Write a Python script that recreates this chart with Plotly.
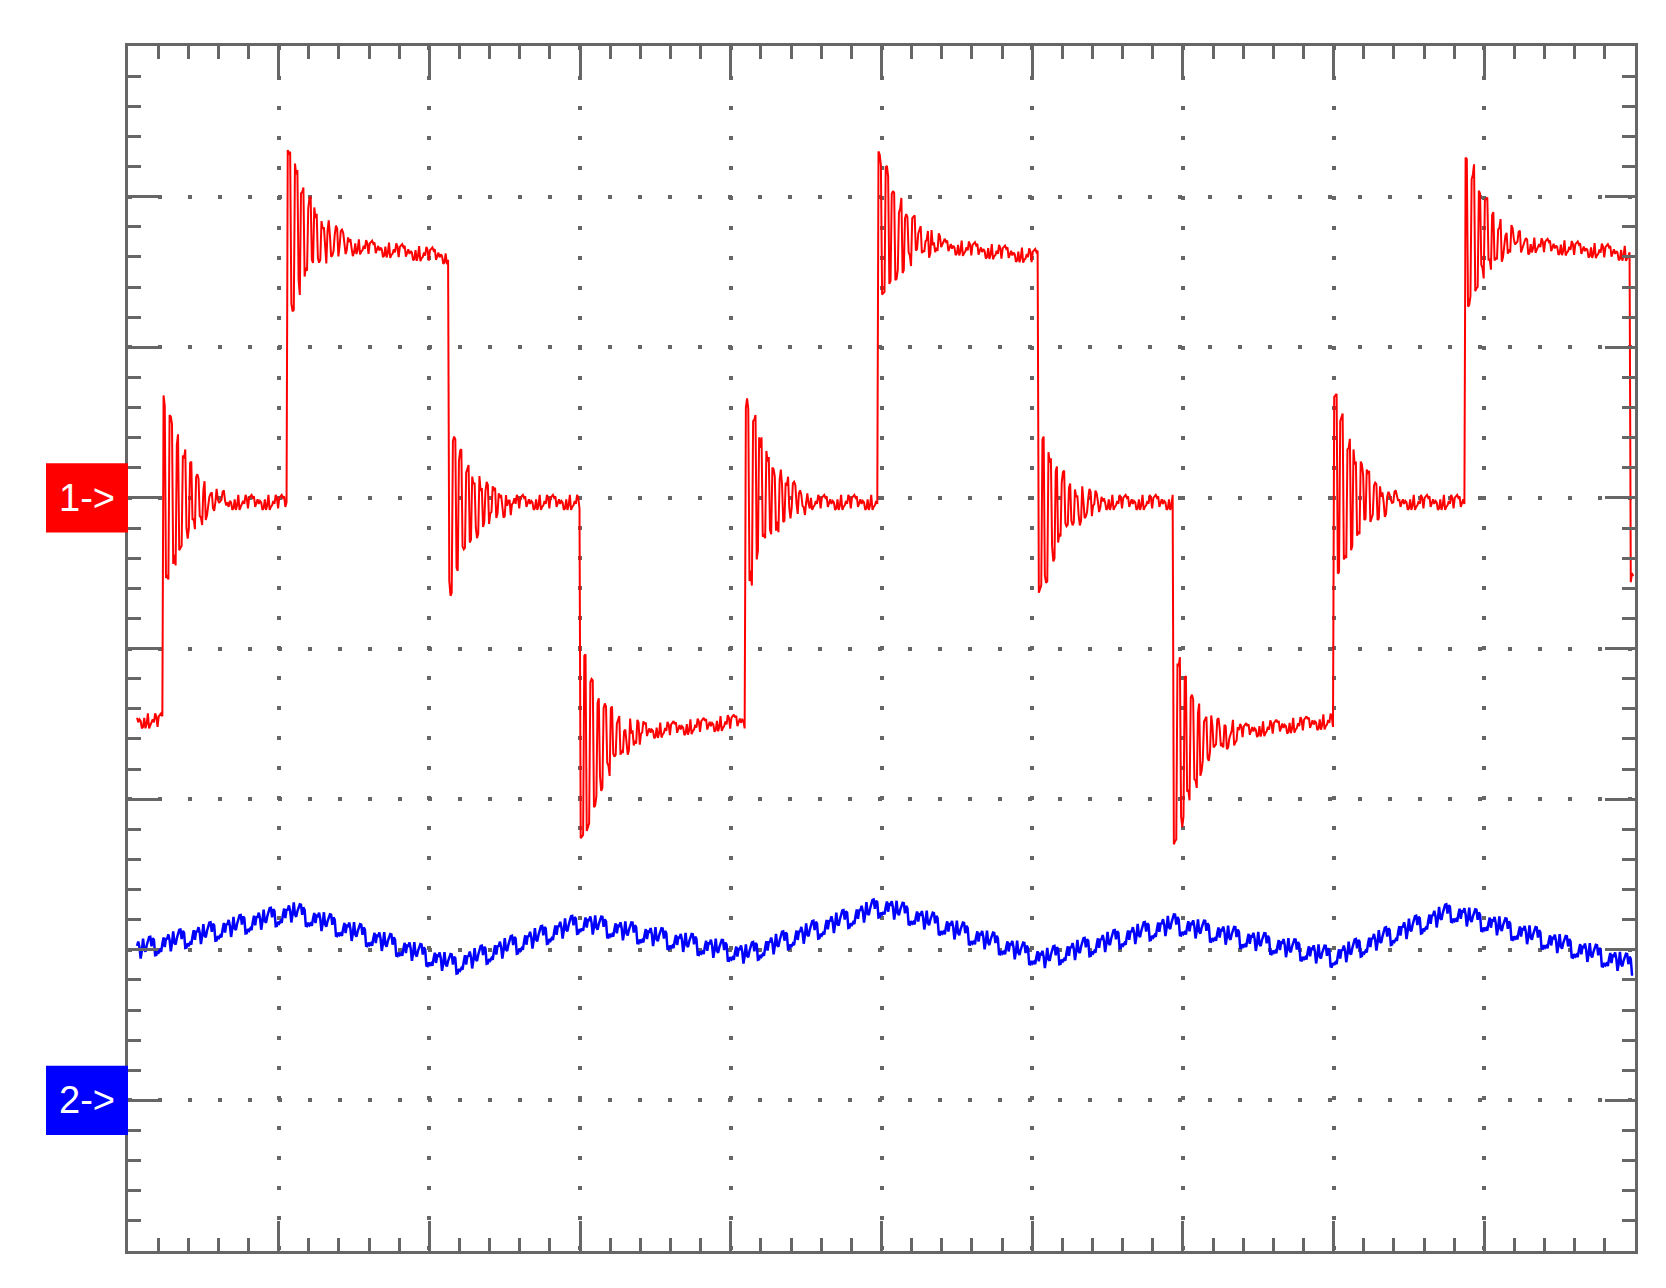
import numpy as np
import plotly.graph_objects as go

# ---- data (division units) ----
red_start_level = 3.52
red_edge_times = [0.23, 1.06, 2.13, 3.00, 4.10, 4.98, 6.04, 6.94, 8.00, 8.87, 9.97]
red_plateau_start = [4.97, 6.72, 4.97, 3.40, 4.97, 6.72, 4.97, 3.40, 4.97, 6.72, 4.45]
red_plateau_end = [4.97, 6.60, 4.97, 3.52, 4.97, 6.60, 4.97, 3.52, 4.97, 6.62, 4.45]
red_edge_peaks = [5.64, 7.29, 4.40, 2.71, 5.64, 7.25, 4.40, 2.75, 5.64, 7.25, 4.45]
ring_pattern = [1.0, -0.75, 0.85, -0.55, 0.6, -0.4, 0.45, -0.3, 0.33, -0.22, 0.25,
                -0.15, 0.18, -0.1, 0.13, -0.07, 0.09, -0.05, 0.06, -0.03]
jitter = [0.02, -0.04, 0.05, -0.01, 0.03, -0.05, 0.01, 0.04, -0.03, 0.0, 0.05, -0.02,
          -0.05, 0.03, 0.01, -0.04, 0.04, -0.01, 0.02, -0.03, 0.05, -0.05, 0.0, 0.03, -0.02]
blue_knot_t = [0.06, 1.10, 2.16, 3.01, 4.10, 5.01, 6.07, 6.94, 8.00, 8.78, 9.97]
blue_knot_v = [2.00, 2.25, 1.90, 2.18, 1.97, 2.29, 1.94, 2.17, 1.95, 2.25, 1.90]
t_start, t_end, dt = 0.06, 9.99, 0.008

# ---- build traces ----
t = np.arange(t_start, t_end, dt)
red = np.empty_like(t)
for i, tt in enumerate(t):
    k = np.searchsorted(red_edge_times, tt, side="right") - 1
    if k < 0:
        red[i] = red_start_level
        continue
    t0 = red_edge_times[k]
    t1 = red_edge_times[k + 1] if k + 1 < len(red_edge_times) else t_end
    frac = (tt - t0) / max(t1 - t0, 1e-6)
    base = red_plateau_start[k] + (red_plateau_end[k] - red_plateau_start[k]) * frac
    j = int((tt - t0) / 0.022)
    if j < len(ring_pattern):
        base += (red_edge_peaks[k] - red_plateau_start[k]) * ring_pattern[j]
    red[i] = base
red = red + 1.0 * np.array([jitter[(i * 3) % len(jitter)] for i in range(len(t))])

blue = np.interp(t, blue_knot_t, blue_knot_v)
blue = blue + 1.3 * np.array([jitter[(i * 7) % len(jitter)] for i in range(len(t))])

fig = go.Figure()
fig.add_trace(go.Scatter(x=t, y=red, mode="lines", line=dict(color="#ff0000", width=2),
                         hoverinfo="skip"))
fig.add_trace(go.Scatter(x=t, y=blue, mode="lines", line=dict(color="#0000ff", width=2.5),
                         hoverinfo="skip"))

axis_common = dict(showgrid=True, gridcolor="#666", griddash="4px,26px", gridwidth=4,
                   showline=True, linecolor="#666", linewidth=3, mirror="allticks",
                   ticks="inside", ticklen=30, tickwidth=3, tickcolor="#666",
                   showticklabels=False, zeroline=False, dtick=1, tick0=0,
                   minor=dict(dtick=0.2, ticks="inside", ticklen=13, tickwidth=3,
                              tickcolor="#666", showgrid=False))
fig.update_xaxes(range=[0, 10], **axis_common)
fig.update_yaxes(range=[0, 8], **axis_common)

w = 82 / 1507
for yv, col, txt in [(5, "#ff0000", "1-&gt;"), (1, "#0000ff", "2-&gt;")]:
    fig.add_shape(type="rect", xref="paper", yref="y", x0=-w, x1=0, y0=yv - 0.23, y1=yv + 0.23,
                  fillcolor=col, line=dict(width=0), layer="above")
    fig.add_annotation(xref="paper", yref="y", x=-w / 2, y=yv, text=txt, showarrow=False,
                       xanchor="center", yanchor="middle",
                       font=dict(color="white", size=38, family="Liberation Sans"))

fig.update_layout(width=1666, height=1288, margin=dict(l=120, r=39, t=38, b=45),
                  plot_bgcolor="white", paper_bgcolor="white", showlegend=False)
fig.write_html("out.html")
